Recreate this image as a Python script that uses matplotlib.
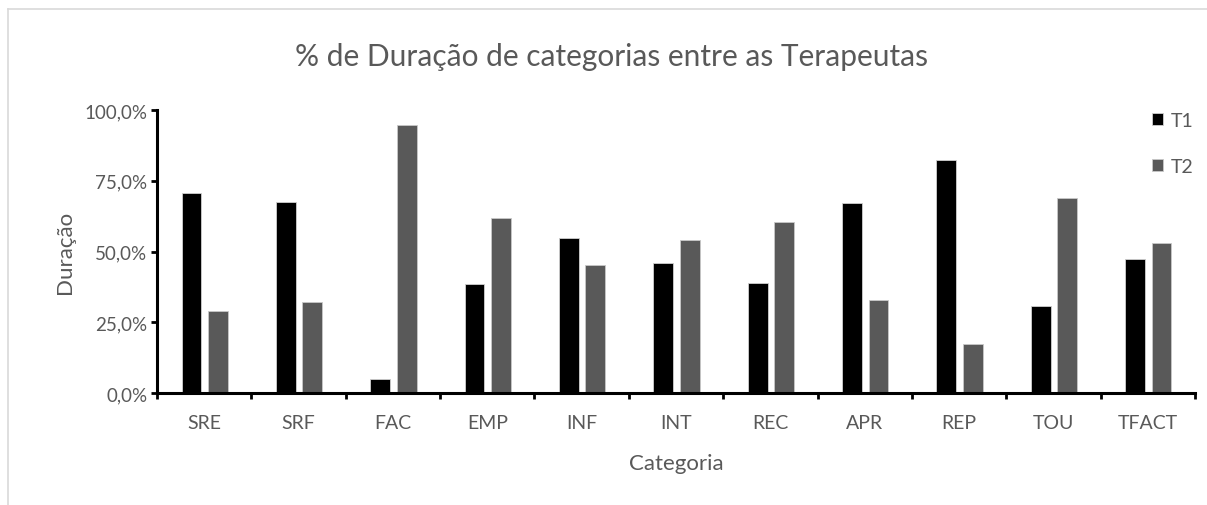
import matplotlib
matplotlib.use("Agg")
import matplotlib.pyplot as plt
from matplotlib.lines import Line2D
from matplotlib.ticker import FuncFormatter
import numpy as np

categories = ["SRE", "SRF", "FAC", "EMP", "INF", "INT", "REC", "APR", "REP", "TOU", "TFACT"]
t1 = [70.7, 67.6, 4.8, 38.5, 54.9, 45.8, 39.0, 67.1, 82.5, 30.9, 47.2]
t2 = [29.1, 32.3, 94.8, 61.7, 45.4, 53.9, 60.6, 32.7, 17.2, 69.0, 53.0]
series_names = ["T1", "T2"]
yticks = [0, 25, 50, 75, 100]

plt.rcParams['font.family'] = ['Lato', 'DejaVu Sans']
txt = '#595959'

fig = plt.figure(figsize=(12.07, 5.06), dpi=100)
ax = fig.add_axes([157/1207, 1-394/506, (1195-157)/1207, (394-111)/506])

x = np.arange(len(categories))
w = 0.21
ax.bar(x - 0.135, t1, w, color='black', edgecolor='#d0d0d0', linewidth=0.6, label=series_names[0])
ax.bar(x + 0.145, t2, w, color='#595959', edgecolor='#c8c8c8', linewidth=0.6, label=series_names[1])

ax.set_xlim(-0.5, len(categories) - 0.5)
ax.set_ylim(0, 100)
for s in ['top', 'right']:
    ax.spines[s].set_visible(False)
for s in ['left', 'bottom']:
    ax.spines[s].set_linewidth(2.2)
    ax.spines[s].set_color('black')

ax.set_yticks(yticks)
ax.yaxis.set_major_formatter(FuncFormatter(lambda v, p: f"{v:.1f}%".replace('.', ',')))
ax.tick_params(axis='y', length=4, width=2, direction='out', labelsize=13.5, labelcolor=txt, pad=3)

ax.set_xticks(x)
ax.set_xticklabels(categories)
ax.tick_params(axis='x', which='major', length=0, pad=15, labelsize=14, labelcolor=txt)
ax.set_xticks(np.arange(len(categories) + 1) - 0.5, minor=True)
ax.tick_params(axis='x', which='minor', length=4, width=2, direction='out')

ax.set_xlabel("Categoria", fontsize=16, color=txt, labelpad=16)
ax.set_ylabel("Duração", fontsize=16, color=txt, labelpad=7)

fig.text(0.507, 1-57/506, "% de Duração de categorias entre as Terapeutas",
         ha='center', va='center', fontsize=21.5, color=txt, fontweight='normal')

leg = fig.legend(loc='upper left', bbox_to_anchor=(1152/1207, 1-113/506), frameon=False,
                 fontsize=14, labelspacing=1.5, handlelength=0.55, handleheight=0.55,
                 handletextpad=0.4, borderpad=0, borderaxespad=0)
for t in leg.get_texts():
    t.set_color(txt)

fig.add_artist(Line2D([8/1207, 1], [1-10/506, 1-10/506], color='#d9d9d9', lw=1.2))
fig.add_artist(Line2D([8/1207, 8/1207], [0, 1-10/506], color='#d9d9d9', lw=1.2))

fig.savefig("out.png", dpi=100)
